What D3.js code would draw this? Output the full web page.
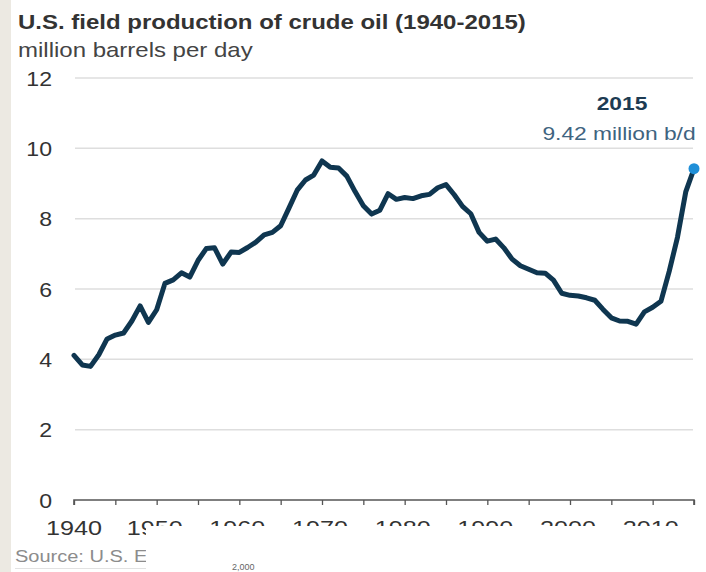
<!DOCTYPE html>
<html>
<head>
<meta charset="utf-8">
<script src="https://cdn.jsdelivr.net/npm/d3@7"></script>
<style>
  html, body { margin: 0; padding: 0; background: #fff; }
  svg { display: block; font-family: "Liberation Sans", Arial, sans-serif; }
</style>
</head>
<body>
<svg id="chart" width="706" height="572"></svg>
<script>
const years = [1940,1941,1942,1943,1944,1945,1946,1947,1948,1949,
  1950,1951,1952,1953,1954,1955,1956,1957,1958,1959,
  1960,1961,1962,1963,1964,1965,1966,1967,1968,1969,
  1970,1971,1972,1973,1974,1975,1976,1977,1978,1979,
  1980,1981,1982,1983,1984,1985,1986,1987,1988,1989,
  1990,1991,1992,1993,1994,1995,1996,1997,1998,1999,
  2000,2001,2002,2003,2004,2005,2006,2007,2008,2009,
  2010,2011,2012,2013,2014,2015];
const production = [4.11,3.84,3.80,4.13,4.58,4.69,4.75,5.09,5.52,5.05,
  5.41,6.16,6.26,6.46,6.34,6.81,7.15,7.17,6.71,7.05,
  7.04,7.18,7.33,7.54,7.61,7.80,8.30,8.81,9.10,9.24,
  9.64,9.46,9.44,9.21,8.77,8.37,8.13,8.24,8.71,8.55,
  8.60,8.57,8.65,8.69,8.88,8.97,8.68,8.35,8.14,7.61,
  7.36,7.42,7.17,6.85,6.66,6.56,6.46,6.45,6.25,5.88,
  5.82,5.80,5.75,5.68,5.42,5.18,5.09,5.08,5.00,5.35,
  5.48,5.65,6.50,7.47,8.76,9.42];
const yTicks = [0,2,4,6,8,10,12];
const xLabels = [1940,1950,1960,1970,1980,1990,2000,2010];
const xTicks = [1940,1945,1950,1955,1960,1965,1970,1975,1980,1985,1990,1995,2000,2005,2010,2015];
const title = "U.S. field production of crude oil (1940-2015)";
const subtitle = "million barrels per day";
const calloutYear = "2015";
const calloutText = "9.42 million b/d";

const svg = d3.select("#chart");
const data = years.map((y, i) => ({year: y, value: production[i]}));

const x = d3.scaleLinear().domain([1940, 2015]).range([74, 694]);
const y = d3.scaleLinear().domain([0, 12]).range([500, 78]);

// helper: horizontally stretched text (the reference image is widened)
function stext(parent, tx, ty, sx, str) {
  return parent.append("text")
    .attr("transform", `translate(${tx},${ty}) scale(${sx},1)`)
    .text(str);
}

// left beige strip
svg.append("rect").attr("x", 0).attr("y", 0).attr("width", 11).attr("height", 572).attr("fill", "#ece9e2");

// title
stext(svg, 18, 29, 1.2, title)
  .attr("font-size", 20).attr("font-weight", "bold").attr("fill", "#333");
stext(svg, 18, 57, 1.2, subtitle)
  .attr("font-size", 20).attr("fill", "#444");

// gridlines
svg.append("g").selectAll("line").data(yTicks.filter(d => d > 0)).join("line")
  .attr("x1", 75).attr("x2", 693)
  .attr("y1", d => y(d)).attr("y2", d => y(d))
  .attr("stroke", "#dedede").attr("stroke-width", 1.5);

// y labels
const gy = svg.append("g");
yTicks.forEach(d => {
  stext(gy, 52, y(d) + 7.5, 1.1, d)
    .attr("text-anchor", "end").attr("font-size", 21).attr("fill", "#333");
});

// x axis
const xAxis = d3.axisBottom(x).tickValues(xTicks).tickSize(5).tickFormat("");
const gx = svg.append("g").attr("transform", "translate(0,500)").call(xAxis);
gx.select(".domain").attr("stroke", "#555").attr("stroke-width", 1.6).attr("d", "M74,5V0H694V5");
gx.selectAll(".tick line").attr("stroke", "#555").attr("stroke-width", 1.3);

const gxl = svg.append("g");
xLabels.forEach(d => {
  stext(gxl, d === 1940 ? x(d) - 28 : x(d) - 2, 535, 1.2, d)
    .attr("text-anchor", d === 1940 ? "start" : "middle")
    .attr("font-size", 21).attr("fill", "#333");
});

// line
const line = d3.line().x(d => x(d.year)).y(d => y(d.value));
svg.append("path").datum(data)
  .attr("d", line).attr("fill", "none")
  .attr("stroke", "#0f3650").attr("stroke-width", 5)
  .attr("stroke-linejoin", "round").attr("stroke-linecap", "round");

const last = data[data.length - 1];
svg.append("circle").attr("cx", x(last.year)).attr("cy", y(last.value)).attr("r", 5.5).attr("fill", "#1f8fd8");

// callout
stext(svg, 622, 110, 1.2, calloutYear)
  .attr("text-anchor", "middle")
  .attr("font-size", 19).attr("font-weight", "bold").attr("fill", "#1d3b53");
stext(svg, 619, 140, 1.2, calloutText)
  .attr("text-anchor", "middle")
  .attr("font-size", 19).attr("fill", "#3f6480");

// source line, then overlay box covering lower part (as in the reference image)
stext(svg, 15, 562, 1.25, "Source: U.S. E")
  .attr("font-size", 16).attr("fill", "#8c8c8c");
svg.append("line").attr("x1", 15).attr("x2", 146).attr("y1", 568.5).attr("y2", 568.5)
  .attr("stroke", "#e2e2e2").attr("stroke-width", 1);
svg.append("rect").attr("x", 146).attr("y", 526).attr("width", 560).attr("height", 46).attr("fill", "#fff");
svg.append("text").attr("x", 232).attr("y", 570).attr("font-size", 9).attr("fill", "#666")
  .text("2,000");
</script>
</body>
</html>
